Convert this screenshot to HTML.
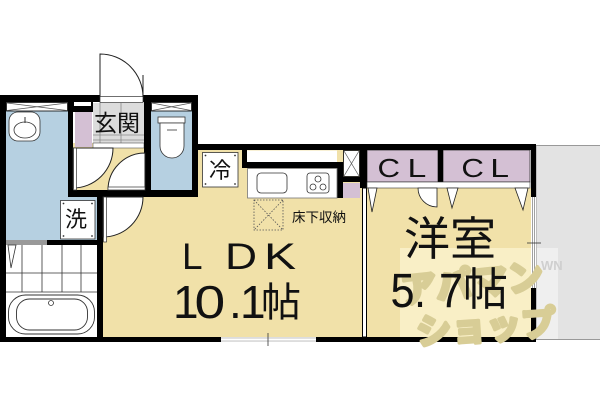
<!DOCTYPE html>
<html><head><meta charset="utf-8"><style>
html,body{margin:0;padding:0;background:#fff;}
svg{display:block;}
text{font-family:"Liberation Sans","Noto Sans CJK JP",sans-serif;fill:#111;}
.j{font-family:"Noto Sans CJK JP","Liberation Sans",sans-serif;}
.wm{font-family:"Noto Sans CJK JP","Liberation Sans",sans-serif;fill:#d8cd96;stroke:#d8cd96;stroke-width:3.5;stroke-linejoin:round;font-weight:bold;}
</style></head><body>
<svg width="600" height="400" viewBox="0 0 600 400" xmlns="http://www.w3.org/2000/svg">
<rect width="600" height="400" fill="#fff"/>
<!-- balcony -->
<rect x="536" y="145.5" width="70" height="194" fill="#e3e3e3" stroke="#999" stroke-width="1"/>
<!-- beige floors -->
<rect x="102" y="150" width="260" height="187" fill="#f1e1a9"/>
<rect x="73" y="143" width="72" height="47" fill="#f1e1a9"/>
<rect x="367" y="188" width="164" height="149" fill="#f1e1a9"/>
<!-- watermark panel -->
<rect x="400" y="248" width="131" height="89" fill="#f9efc6"/>
<rect x="537" y="248" width="21" height="91" fill="#efefef"/>
<!-- blue wet areas -->
<path d="M6 111H68V197H97V240H6Z" fill="#b6d0e1"/>
<rect x="151" y="111" width="41" height="79" fill="#b6d0e1"/>
<!-- purple storage -->
<rect x="75" y="112" width="17" height="35" fill="#d4c0d4"/>
<rect x="367" y="150" width="71" height="32" fill="#d4c0d4" stroke="#333" stroke-width="0.8"/>
<rect x="443" y="150" width="87" height="32" fill="#d4c0d4" stroke="#333" stroke-width="0.8"/>
<rect x="343" y="183" width="17" height="15" fill="#d4c0d4"/>
<!-- genkan tiles -->
<rect x="93" y="103" width="51" height="40" fill="#dcdcdc"/>
<g stroke="#8a8a8a" stroke-width="0.8">
<line x1="100" y1="103" x2="100" y2="143"/><line x1="121" y1="103" x2="121" y2="143"/>
<line x1="93" y1="135" x2="144" y2="135"/><line x1="93" y1="140" x2="144" y2="140"/>
</g>
<rect x="93" y="143" width="51" height="5" fill="#fff" stroke="#555" stroke-width="0.6"/>
<!-- walls -->
<g fill="#000">
<rect x="0" y="95" width="100" height="7"/>
<rect x="68" y="95" width="25" height="17"/>
<rect x="143" y="95" width="55" height="7"/>
<rect x="0" y="95" width="6" height="247"/>
<rect x="68" y="95" width="5" height="95"/>
<rect x="68" y="190" width="82" height="7"/>
<rect x="144" y="95" width="7" height="102"/>
<rect x="192" y="95" width="6" height="102"/>
<rect x="144" y="190" width="54" height="7"/>
<rect x="192" y="144" width="344" height="6"/>
<rect x="531" y="144" width="5" height="53"/>
<rect x="531" y="288" width="5" height="54"/>
<rect x="0" y="337" width="536" height="5"/>
<rect x="97" y="197" width="6" height="145"/>
<rect x="242" y="150" width="5" height="18"/>
<rect x="242" y="162" width="101" height="6"/>
<rect x="337" y="162" width="6" height="36"/>
<rect x="343" y="177" width="17" height="5"/>
<rect x="360" y="150" width="7" height="38"/>
<rect x="438" y="150" width="5" height="38"/>
<rect x="47" y="240" width="50" height="5"/>
</g>
<rect x="6" y="240" width="41" height="5" fill="#999"/>
<rect x="74" y="102" width="17" height="4" fill="#fff"/>
<!-- windows -->
<g fill="#fff" stroke="#000" stroke-width="0.8">
<rect x="6.5" y="102.5" width="61" height="8.5"/>
<rect x="151.5" y="102.5" width="40" height="8.5"/>
<rect x="343.5" y="150.5" width="16" height="26"/>
<rect x="247" y="150.5" width="90" height="11.5" stroke="none"/>
</g>
<g stroke="#555" stroke-width="0.7">
<line x1="7" y1="103" x2="67" y2="110.5"/><line x1="7" y1="110.5" x2="67" y2="103"/>
<line x1="152" y1="103" x2="191" y2="110.5"/><line x1="152" y1="110.5" x2="191" y2="103"/>
<line x1="344" y1="151" x2="359" y2="176"/><line x1="344" y1="176" x2="359" y2="151"/>
</g>
<rect x="221" y="337" width="95" height="5" fill="#ddd"/>
<line x1="221" y1="339.5" x2="316" y2="339.5" stroke="#fff" stroke-width="1.2"/>
<line x1="268" y1="333" x2="268" y2="346" stroke="#333" stroke-width="0.8"/>
<rect x="531" y="197" width="5" height="91" fill="#fff"/>
<line x1="532.5" y1="197" x2="532.5" y2="288" stroke="#888" stroke-width="0.8"/>
<line x1="534.5" y1="197" x2="534.5" y2="288" stroke="#888" stroke-width="0.8"/>
<line x1="527" y1="243" x2="541" y2="243" stroke="#333" stroke-width="0.8"/>
<!-- partition -->
<rect x="362.5" y="188" width="4" height="149" fill="#fff" stroke="#000" stroke-width="1"/>
<!-- CL strip and folding doors -->
<rect x="367" y="182" width="163" height="6" fill="#fff" stroke="#333" stroke-width="0.6"/>
<g fill="#fff" stroke="#222" stroke-width="0.8">
<path d="M368 188L377 188L372 212Z"/>
<path d="M447 188L458 188L452 208Z"/>
<path d="M515 188L528 188L523 210Z"/>
<path d="M437 188L437 207A19 19 0 0 1 418 188Z"/>
</g>
<!-- doors -->
<g fill="#fff" stroke="#222" stroke-width="1">
<path d="M100 97L100 54A43 43 0 0 1 143 97Z"/>
<path d="M73 148L113 148A40 40 0 0 1 73 188Z"/>
<path d="M145 190L145 153A37 37 0 0 0 108 190Z"/>
<path d="M103 197L143 197A40 40 0 0 1 103 237Z"/>
</g>
<g fill="#fff" stroke="#333" stroke-width="0.7">
<rect x="100" y="96.5" width="43" height="6"/>
<rect x="73.5" y="148" width="3" height="42"/>
<rect x="108" y="187" width="37" height="3"/>
<rect x="103.5" y="197" width="3" height="45"/>
</g>
<line x1="143" y1="75" x2="143" y2="97" stroke="#222" stroke-width="1"/>
<!-- basin -->
<rect x="9" y="112" width="31" height="29" rx="9" fill="#fff" stroke="#333" stroke-width="0.8"/>
<ellipse cx="25" cy="130" rx="11" ry="8" fill="#fff" stroke="#333" stroke-width="0.8"/>
<line x1="25" y1="117" x2="25" y2="123" stroke="#333" stroke-width="1"/>
<!-- toilet -->
<rect x="158" y="117" width="27" height="6" fill="#fff" stroke="#333" stroke-width="0.8"/>
<path d="M160 123L160 146A12 12 0 0 0 184 146L184 123Z" fill="#fff" stroke="#333" stroke-width="0.8"/>
<line x1="167" y1="130" x2="177" y2="130" stroke="#333" stroke-width="0.8"/>
<!-- kitchen -->
<rect x="247.5" y="168.5" width="89.5" height="29.5" fill="#fff" stroke="#777" stroke-width="0.8"/>
<rect x="257" y="173" width="30" height="20" rx="4" fill="#fff" stroke="#333" stroke-width="0.8"/>
<rect x="307" y="173" width="22" height="20" rx="3" fill="#fff" stroke="#333" stroke-width="0.8"/>
<g fill="#fff" stroke="#333" stroke-width="0.8">
<circle cx="318" cy="179" r="3"/><circle cx="313" cy="187" r="3"/><circle cx="323" cy="187" r="3"/>
</g>
<!-- underfloor storage -->
<g fill="none" stroke="#555" stroke-width="0.8" stroke-dasharray="1.5 1.5">
<rect x="254" y="200" width="29" height="30"/>
<line x1="254" y1="200" x2="283" y2="230"/><line x1="283" y1="200" x2="254" y2="230"/>
</g>
<!-- bath -->
<rect x="6" y="245" width="91" height="92" fill="#fff"/>
<g stroke="#333" stroke-width="0.8">
<line x1="22" y1="245" x2="22" y2="292"/><line x1="42" y1="245" x2="42" y2="292"/>
<line x1="62" y1="245" x2="62" y2="292"/><line x1="81" y1="245" x2="81" y2="292"/>
<line x1="6" y1="273" x2="97" y2="273"/><line x1="6" y1="292" x2="97" y2="292"/>
</g>
<path d="M8 245L16 245L11 268Z" fill="#fff" stroke="#333" stroke-width="0.8"/>
<rect x="8.5" y="295" width="86" height="39" rx="17" fill="#fff" stroke="#333" stroke-width="0.9"/>
<rect x="16.5" y="299" width="71" height="31" rx="13" fill="#fff" stroke="#333" stroke-width="0.9"/>
<circle cx="51" cy="303" r="2.5" fill="#fff" stroke="#333" stroke-width="0.8"/>
<!-- label boxes -->
<rect x="60.5" y="200.5" width="34.5" height="38.5" fill="#fff" stroke="#333" stroke-width="0.8"/>
<rect x="202.5" y="152.5" width="35.5" height="34.5" fill="#fff" stroke="#333" stroke-width="0.8"/>
<g fill="#333">
<circle cx="63.5" cy="203.5" r="0.9"/><circle cx="92" cy="203.5" r="0.9"/><circle cx="63.5" cy="236" r="0.9"/><circle cx="92" cy="236" r="0.9"/>
<circle cx="205.5" cy="155.5" r="0.9"/><circle cx="235" cy="155.5" r="0.9"/><circle cx="205.5" cy="184" r="0.9"/><circle cx="235" cy="184" r="0.9"/>
</g>
<!-- watermark -->
<text class="wm" x="400" y="296" font-size="36" transform="rotate(-6 470 280)">アパマン</text>
<text class="wm" x="416" y="340" font-size="35" transform="rotate(-4 480 325)">ショップ</text>
<text x="541" y="270" font-size="13" style="fill:#cfcfcf;font-weight:bold">WN</text>
<!-- labels -->
<text class="j" x="94" y="131" font-size="23">玄関</text>
<text class="j" x="65" y="227" font-size="22">洗</text>
<text class="j" x="209" y="178" font-size="22">冷</text>
<text class="j" x="292" y="222" font-size="13.5">床下収納</text>
<text font-size="37" transform="translate(182,269)">L</text>
<text font-size="37" transform="translate(225,269) scale(1.2,1)">D</text>
<text font-size="37" transform="translate(264,269) scale(1.3,1)">K</text>
<text font-size="46" x="173" y="318">1</text>
<text font-size="46" transform="translate(194.5,318) scale(1.2,1)">0</text>
<text font-size="46" x="229" y="318">.</text>
<text font-size="46" x="240" y="318">1</text>
<text class="j" x="261" y="316" font-size="40">帖</text>
<text class="j" x="404" y="255" font-size="46">洋室</text>
<text font-size="48" transform="translate(390.5,307) scale(0.9,1)">5</text>
<text font-size="48" transform="translate(414,307) scale(0.9,1)">.</text>
<text font-size="48" transform="translate(439,307) scale(0.9,1)">7</text>
<text class="j" x="463" y="305" font-size="45">帖</text>
<text font-size="26" transform="translate(377.5,177) scale(1.2,1)">C</text>
<text font-size="26" transform="translate(407.5,177) scale(1.3,1)">L</text>
<text font-size="26" transform="translate(461.4,177) scale(1.2,1)">C</text>
<text font-size="26" transform="translate(490.3,177) scale(1.3,1)">L</text>
</svg>
</body></html>
